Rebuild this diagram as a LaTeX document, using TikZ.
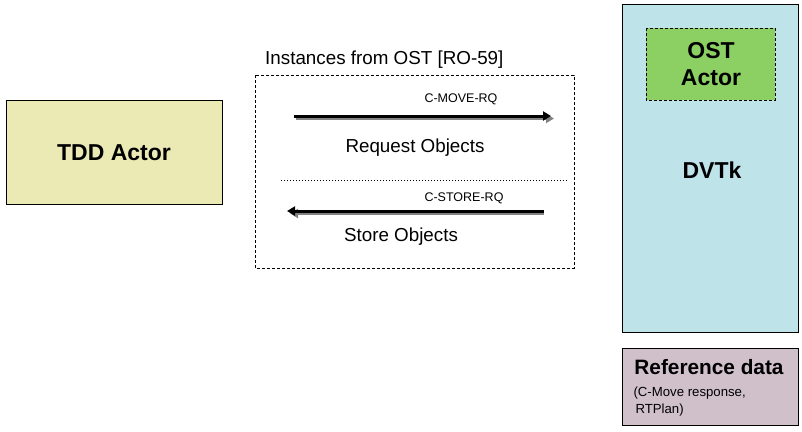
\documentclass[tikz,border=0pt]{standalone}
\usepackage{fontspec}
\setmainfont{Liberation Sans}
\usetikzlibrary{arrows.meta}
\definecolor{tddfill}{RGB}{236,234,180}
\definecolor{dvtkfill}{RGB}{190,228,234}
\definecolor{ostfill}{RGB}{140,208,100}
\definecolor{reffill}{RGB}{208,192,202}
\definecolor{shadowgray}{RGB}{130,130,130}
\tikzset{
  actorbox/.style={draw=black, line width=0.9pt, inner sep=0pt},
  groupbox/.style={draw=black, line width=0.7pt, dash pattern=on 3pt off 2pt},
  bigbold/.style={font=\fontsize{23}{27}\selectfont\bfseries, align=center},
  midtext/.style={font=\fontsize{18.8}{22}\selectfont},
  smalltext/.style={font=\fontsize{12.5}{15}\selectfont},
  msgarrow/.style={line width=3pt, -{Triangle[length=8pt,width=9pt]}},
  msgshadow/.style={line width=2.5pt, draw=shadowgray, -{Triangle[length=8pt,width=9pt]}},
}
\begin{document}
\begin{tikzpicture}[x=1pt,y=-1pt]
\useasboundingbox (0,0) rectangle (802,431);
\fill[white] (0,0) rectangle (802,431);
% TDD actor
\draw[actorbox, fill=tddfill] (6,100) rectangle (222,204);
\node[bigbold] (tdd) at (114,153) {TDD Actor};
% DVTk
\draw[actorbox, fill=dvtkfill] (622,4) rectangle (798,332);
\draw[groupbox, fill=ostfill] (646,28) rectangle (775,100);
\node[bigbold, font=\fontsize{23}{27}\selectfont\bfseries] (ost) at (711,64) {OST\\Actor};
\node[bigbold] (dvtk) at (712,170) {DVTk};
% Reference data
\draw[actorbox, fill=reffill] (622,348) rectangle (798,425);
\node[font=\fontsize{20.8}{24}\selectfont\bfseries] (ref) at (709,367) {Reference data};
\node[font=\fontsize{13.2}{16}\selectfont, anchor=west] (refa) at (630,393) {(C-Move response,};
\node[font=\fontsize{13.2}{16}\selectfont, anchor=west] (refb) at (632,410) {RTPlan)};
% Instances group
\draw[groupbox] (255,75) rectangle (574,268);
\node[midtext, anchor=west, inner sep=0pt] (title) at (265,60) {Instances from OST [RO-59]};
% arrow 1
\coordinate (a1s) at (294,116);
\coordinate (a1e) at (551,116);
\coordinate (a1ss) at (296,118.5);
\coordinate (a1se) at (554,118.5);
\draw[msgshadow] (a1ss) -- (a1se);
\draw[msgarrow] (a1s) -- (a1e);
\node[smalltext] (cmove) at (461,99) {C-MOVE-RQ};
\node[midtext] (req) at (415,148) {Request Objects};
% dotted separator
\coordinate (d1) at (281,180);
\coordinate (d2) at (567,180);
\draw[line width=1pt, dash pattern=on 1.2pt off 1.8pt] (d1) -- (d2);
% arrow 2
\coordinate (a2s) at (544,211);
\coordinate (a2e) at (287,211);
\coordinate (a2ss) at (544,213.5);
\coordinate (a2se) at (290,213.5);
\draw[msgshadow] (a2ss) -- (a2se);
\draw[msgarrow] (a2s) -- (a2e);
\node[smalltext] (cstore) at (464,198) {C-STORE-RQ};
\node[midtext] (store) at (401,237) {Store Objects};
\end{tikzpicture}
\end{document}
